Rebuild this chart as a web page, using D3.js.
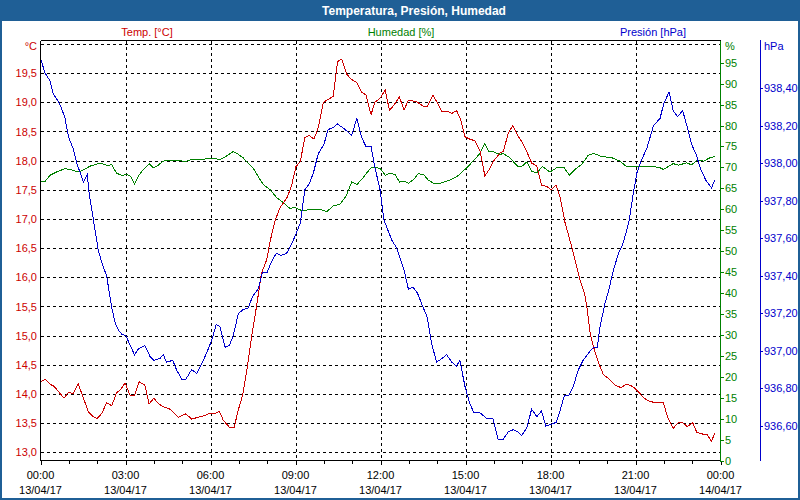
<!DOCTYPE html>
<html><head><meta charset="utf-8">
<script src="https://cdn.jsdelivr.net/npm/d3@7"></script>
<style>
html,body{margin:0;padding:0;background:#fff;}
svg{display:block;font-family:"Liberation Sans",Arial,sans-serif;}
</style></head>
<body>
<svg id="chart" width="800" height="500"></svg>
<script>
// ---- DATA (time in minutes since 13/04/17 00:00) ----
const tempMinutes = [1,10,20,29,38,50,59,69,80,91,101,112,120,130,140,151,161,170,179,190,199,209,221,230,240,249,260,274,292,308,320,338,348,359,370,379,387,400,410,419,428,437,447,458,468,479,486,497,507,523,532,541,550,560,569,579,588,599,609,620,629,638,648,657,670,680,689,700,708,719,730,739,749,760,770,779,797,811,819,831,839,850,860,871,881,890,899,909,920,931,941,952,960,973,980,991,1000,1010,1021,1031,1040,1051,1061,1072,1081,1092,1100,1111,1121,1132,1142,1152,1157,1164,1171,1181,1192,1202,1217,1229,1241,1254,1266,1278,1291,1305,1319,1329,1340,1349,1358,1370,1381,1390,1404,1412,1421,1428];
const tempValues = [14.21,14.25,14.17,14.13,14.04,13.93,14.03,14.01,14.17,13.93,13.70,13.61,13.58,13.67,13.85,13.80,14.02,14.08,14.19,13.97,13.97,14.21,14.15,13.83,13.93,13.84,13.78,13.74,13.60,13.66,13.57,13.61,13.63,13.67,13.67,13.70,13.55,13.43,13.43,13.73,13.98,14.41,14.98,15.53,16.07,16.30,16.61,16.98,17.19,17.38,17.58,17.90,17.98,18.40,18.43,18.37,18.56,19.00,19.05,19.10,19.70,19.74,19.49,19.40,19.34,19.17,19.13,18.79,19.00,19.07,19.21,18.86,18.96,19.09,18.87,19.04,19.01,18.93,18.93,19.12,19.01,18.84,18.85,18.81,18.86,18.70,18.41,18.37,18.34,18.16,17.74,17.87,18.00,18.13,18.16,18.48,18.60,18.44,18.30,18.13,17.96,17.91,17.58,17.56,17.50,17.58,17.38,16.93,16.64,16.30,15.96,15.73,15.50,15.04,14.81,14.55,14.33,14.27,14.15,14.11,14.17,14.13,14.04,13.93,13.87,13.85,13.85,13.58,13.41,13.50,13.52,13.44,13.51,13.34,13.31,13.30,13.19,13.33];

const humMinutes = [1,10,20,34,52,66,80,91,105,119,130,140,151,161,172,183,191,199,207,218,230,239,249,260,274,288,306,320,341,363,380,394,408,419,429,440,451,461,472,486,500,514,528,539,555,571,592,606,620,634,647,659,670,680,691,701,712,720,730,740,751,760,770,779,790,800,811,821,832,846,860,874,885,895,906,916,929,941,950,959,973,980,994,1010,1019,1030,1040,1051,1063,1079,1093,1109,1120,1132,1146,1160,1172,1188,1210,1227,1241,1263,1298,1312,1319,1340,1351,1368,1379,1390,1404,1418,1428];
const humValues = [66.7,66.7,68.1,68.9,69.7,69.4,68.9,69.4,70.3,70.8,70.9,70.5,70.6,68.6,68.1,68.3,67.9,66.1,67.9,69.5,70.9,69.9,70.5,71.5,71.7,71.7,71.4,71.9,71.9,72.2,71.9,72.7,73.8,73.1,72.3,71.0,69.7,67.8,65.9,64.7,62.8,61.6,60.2,60.4,59.6,60.0,60.0,59.4,60.8,61.2,63.1,66.5,65.9,67.1,68.7,70.0,69.9,69.7,68.1,68.6,68.3,66.5,66.7,66.2,67.1,68.5,68.3,67.0,66.2,66.2,66.7,67.3,68.1,69.1,70.3,71.5,73.1,75.7,73.7,73.7,73.1,73.3,72.3,70.3,70.2,71.3,69.1,68.7,70.2,68.9,69.9,69.9,68.1,69.5,70.7,72.9,73.3,72.6,72.3,71.5,70.2,70.2,70.2,69.9,69.5,70.9,70.5,71.1,70.6,71.7,71.5,72.3,72.6];

const presMinutes = [1,10,20,27,38,45,52,57,61,69,77,84,91,99,103,112,119,122,130,140,151,158,165,172,181,190,199,207,221,232,240,253,260,267,280,288,299,308,320,331,341,352,363,372,380,391,400,408,419,429,440,449,461,470,480,490,499,509,521,532,550,560,569,578,588,600,609,619,629,640,650,659,670,680,689,700,708,719,727,744,754,761,770,779,789,798,809,819,828,839,850,860,871,881,888,899,909,918,931,945,958,969,980,991,1001,1010,1019,1030,1040,1051,1061,1070,1083,1092,1100,1109,1118,1128,1139,1149,1164,1172,1179,1185,1195,1204,1213,1224,1233,1241,1247,1254,1263,1273,1284,1298,1312,1320,1331,1340,1349,1360,1370,1379,1388,1398,1409,1421,1428];
const presValues = [938.55,938.48,938.44,938.37,938.33,938.29,938.24,938.17,938.13,938.08,938.00,937.95,937.90,937.94,937.84,937.70,937.59,937.54,937.47,937.40,937.23,937.15,937.11,937.09,937.08,937.03,936.98,937.01,937.03,936.97,936.95,936.96,936.98,936.94,936.95,936.90,936.85,936.85,936.90,936.88,936.93,936.99,937.06,937.14,937.13,937.02,937.03,937.08,937.20,937.22,937.23,937.29,937.33,937.42,937.42,937.48,937.52,937.51,937.52,937.57,937.68,937.86,937.89,937.95,938.05,938.10,938.18,938.19,938.21,938.19,938.17,938.15,938.24,938.14,938.09,938.09,937.98,937.86,937.70,937.59,937.55,937.50,937.43,937.33,937.34,937.31,937.24,937.18,937.04,936.94,936.96,936.98,936.94,936.92,936.95,936.81,936.72,936.67,936.67,936.64,936.64,936.53,936.53,936.57,936.58,936.57,936.55,936.59,936.69,936.65,936.68,936.60,936.61,936.62,936.68,936.76,936.76,936.81,936.90,936.95,937.00,937.02,937.02,937.13,937.25,937.33,937.43,937.52,937.57,937.64,937.70,937.82,937.95,938.02,938.08,938.20,938.24,938.32,938.38,938.28,938.25,938.28,938.19,938.10,938.05,937.97,937.91,937.87,937.91];

const xTickMinutes = [0,180,360,540,720,900,1080,1260,1440];
const xTimeLabels = ["00:00","03:00","06:00","09:00","12:00","15:00","18:00","21:00","00:00"];
const xDateLabels = ["13/04/17","13/04/17","13/04/17","13/04/17","13/04/17","13/04/17","13/04/17","13/04/17","14/04/17"];
const tempTicks = [13.0,13.5,14.0,14.5,15.0,15.5,16.0,16.5,17.0,17.5,18.0,18.5,19.0,19.5,20.0];
const humTicks = [0,5,10,15,20,25,30,35,40,45,50,55,60,65,70,75,80,85,90,95];
const presTicks = [936.6,936.8,937.0,937.2,937.4,937.6,937.8,938.0,938.2,938.4];

const chartTitle = "Temperatura, Presión, Humedad";
const tempLabel = "Temp. [°C]", humLabel = "Humedad [%]", presLabel = "Presión [hPa]";

// ---- DRAWING ----
const RED = "#cc0000", GREEN = "#008000", BLUE = "#0000cc", FRAME = "#1f5f96";
const svg = d3.select("#chart");
const L = 40.5, R = 720.5, T = 40.5, B = 460.5;
const loc = d3.formatLocale({decimal: ",", thousands: ".", grouping: [3], currency: ["", "€"]});
const f1 = loc.format(".1f"), f2 = loc.format(".2f");

const x = d3.scaleLinear().domain([0, 1440]).range([L, R]);
const yT = d3.scaleLinear().domain([12.86, 20.06]).range([B, T]);
const yH = d3.scaleLinear().domain([0, 100.3]).range([B, T]);
const yP = d3.scaleLinear().domain([936.416, 938.655]).range([B, T]);

// background and frame
svg.append("rect").attr("x", 0).attr("y", 0).attr("width", 800).attr("height", 500).attr("fill", "#fff");
svg.append("rect").attr("x", 0).attr("y", 0).attr("width", 800).attr("height", 21).attr("fill", FRAME);
svg.append("rect").attr("x", 1).attr("y", 1).attr("width", 798).attr("height", 498)
  .attr("fill", "none").attr("stroke", FRAME).attr("stroke-width", 2);
svg.append("text").attr("x", 414).attr("y", 14.5).attr("text-anchor", "middle")
  .attr("fill", "#fff").attr("font-weight", "bold").attr("font-size", 12).text(chartTitle);

// header labels
svg.append("text").attr("x", 147).attr("y", 35.5).attr("text-anchor", "middle").attr("fill", RED).attr("font-size", 11).text(tempLabel);
svg.append("text").attr("x", 401).attr("y", 35.5).attr("text-anchor", "middle").attr("fill", GREEN).attr("font-size", 11).text(humLabel);
svg.append("text").attr("x", 653).attr("y", 35.5).attr("text-anchor", "middle").attr("fill", BLUE).attr("font-size", 11).text(presLabel);

// grid
const grid = svg.append("g").attr("stroke", "#000").attr("stroke-dasharray", "3,3").attr("shape-rendering", "crispEdges");
tempTicks.forEach(v => {
  const yy = Math.round(yT(v)) + 0.5;
  grid.append("line").attr("x1", L).attr("x2", R).attr("y1", yy).attr("y2", yy);
});
xTickMinutes.slice(1, -1).forEach(m => {
  const xx = Math.round(x(m)) + 0.5;
  grid.append("line").attr("x1", xx).attr("x2", xx).attr("y1", T).attr("y2", B);
});

// axes lines
const ax = svg.append("g").attr("shape-rendering", "crispEdges");
ax.append("line").attr("x1", L).attr("x2", R).attr("y1", T).attr("y2", T).attr("stroke", "#000");
ax.append("line").attr("x1", L).attr("x2", L).attr("y1", T).attr("y2", B).attr("stroke", "#000");
ax.append("line").attr("x1", L).attr("x2", R).attr("y1", B).attr("y2", B).attr("stroke", "#000");
ax.append("line").attr("x1", R).attr("x2", R).attr("y1", T).attr("y2", B + 1).attr("stroke", GREEN);
ax.append("line").attr("x1", 760.5).attr("x2", 760.5).attr("y1", T - 1).attr("y2", B).attr("stroke", BLUE);

// x ticks (hourly minor)
for (let m = 0; m <= 1440; m += 60) {
  const xx = Math.round(x(m)) + 0.5;
  ax.append("line").attr("x1", xx).attr("x2", xx).attr("y1", B).attr("y2", B + (m % 180 === 0 ? 4 : 3)).attr("stroke", "#000");
}
const xl = svg.append("g").attr("font-size", 11).attr("fill", "#000").attr("text-anchor", "middle");
xTickMinutes.forEach((m, i) => {
  xl.append("text").attr("x", x(m)).attr("y", 479).text(xTimeLabels[i]);
  xl.append("text").attr("x", x(m)).attr("y", 494).text(xDateLabels[i]);
});

// left temp labels
const tl = svg.append("g").attr("font-size", 11).attr("fill", RED).attr("text-anchor", "end");
tempTicks.forEach(v => {
  if (v < 20) tl.append("text").attr("x", 37).attr("y", yT(v) + 4).text(f1(v));
});
tl.append("text").attr("x", 37).attr("y", 50).text("°C");

// humidity axis labels
const hl = svg.append("g").attr("font-size", 11).attr("fill", GREEN);
humTicks.forEach(v => {
  const yy = Math.round(yH(v)) + 0.5;
  ax.append("line").attr("x1", R).attr("x2", R + 3).attr("y1", yy).attr("y2", yy).attr("stroke", GREEN);
  hl.append("text").attr("x", 725).attr("y", yH(v) + 4).text(v);
});
hl.append("text").attr("x", 725).attr("y", 50).text("%");

// pressure axis labels
const pl = svg.append("g").attr("font-size", 11).attr("fill", BLUE);
presTicks.forEach(v => {
  const yy = Math.round(yP(v)) + 0.5;
  ax.append("line").attr("x1", 760.5).attr("x2", 763).attr("y1", yy).attr("y2", yy).attr("stroke", BLUE);
  pl.append("text").attr("x", 764).attr("y", yP(v) + 4).text(f2(v));
});
pl.append("text").attr("x", 764).attr("y", 50).text("hPa");

// series
function series(ms, vs, ys, color) {
  const pts = ms.map((m, i) => [m, vs[i]]);
  svg.append("path").datum(pts)
    .attr("fill", "none").attr("stroke", color).attr("stroke-width", 1)
    .attr("shape-rendering", "crispEdges")
    .attr("d", d3.line().x(d => x(d[0])).y(d => ys(d[1])));
}
series(humMinutes, humValues, yH, GREEN);
series(tempMinutes, tempValues, yT, RED);
series(presMinutes, presValues, yP, BLUE);
</script>
</body></html>
